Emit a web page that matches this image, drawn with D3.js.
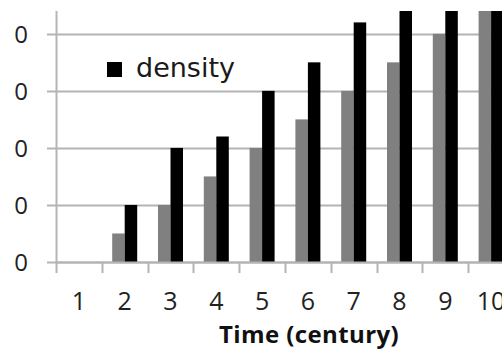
<!DOCTYPE html>
<html>
<head>
<meta charset="utf-8">
<script src="https://cdn.jsdelivr.net/npm/d3@7/dist/d3.min.js"></script>
<style>
  html, body { margin: 0; padding: 0; background: #fff; overflow: hidden; }
  svg { display: block; }
</style>
</head>
<body>
<svg id="chart" width="502" height="352"></svg>
<script>
// Categories (centuries) and the two series per century
const centuries = ["1", "2", "3", "4", "5", "6", "7", "8", "9", "10"];
const greyValues = [0, 5, 10, 15, 20, 25, 30, 35, 40, 45];
const densityValues = [0, 10, 20, 22, 30, 35, 42, 48, 52, 58];
const seriesKeys = ["grey", "density"];
const yTickValues = [0, 10, 20, 30, 40];
const yTickLabels = ["0", "0", "0", "0", "0"];
const legendLabel = "density";
const xTitle = "Time (century)";

const svg = d3.select("#chart");
const plot = { left: 56, right: 514, top: 11, bottom: 262 };

const x0 = d3.scaleBand().domain(centuries).range([plot.left, plot.right]).padding(0);
const x1 = d3.scaleBand().domain(seriesKeys).range([0, x0.bandwidth()])
  .paddingInner(0).paddingOuter(0.832);
const y = d3.scaleLinear().domain([0, 44]).range([plot.bottom, plot.top]);
const colour = d3.scaleOrdinal().domain(seriesKeys).range(["#808080", "#000000"]);

const gridColour = "#b4b4b4";

// Horizontal gridlines with short ticks left of the axis
svg.append("g")
  .selectAll("line")
  .data(yTickValues)
  .join("line")
  .attr("x1", plot.left - 9)
  .attr("x2", 502)
  .attr("y1", d => Math.round(y(d)) + 0.5)
  .attr("y2", d => Math.round(y(d)) + 0.5)
  .attr("stroke", gridColour)
  .attr("stroke-width", 2);

// Y tick labels
svg.append("g")
  .selectAll("text")
  .data(yTickValues)
  .join("text")
  .attr("x", 28)
  .attr("y", d => y(d) + 9)
  .attr("text-anchor", "end")
  .attr("font-family", "'Open Sans', sans-serif")
  .attr("font-size", 24)
  .attr("fill", "#222")
  .text((d, i) => yTickLabels[i]);

// Bars, clipped to the plotting area
svg.append("clipPath").attr("id", "plotClip")
  .append("rect")
  .attr("x", plot.left).attr("y", plot.top)
  .attr("width", plot.right - plot.left).attr("height", plot.bottom - plot.top);

const rows = centuries.map((c, i) => ({ century: c, grey: greyValues[i], density: densityValues[i] }));

svg.append("g")
  .attr("clip-path", "url(#plotClip)")
  .selectAll("g")
  .data(rows)
  .join("g")
  .attr("transform", d => `translate(${x0(d.century)},0)`)
  .selectAll("rect")
  .data(d => seriesKeys.map(k => ({ key: k, value: d[k] })))
  .join("rect")
  .attr("x", d => x1(d.key))
  .attr("width", x1.bandwidth())
  .attr("y", d => y(d.value))
  .attr("height", d => y(0) - y(d.value))
  .attr("fill", d => colour(d.key));

// Axes lines
svg.append("line")
  .attr("x1", plot.left + 0.5).attr("x2", plot.left + 0.5)
  .attr("y1", plot.top).attr("y2", plot.bottom)
  .attr("stroke", gridColour).attr("stroke-width", 2);

svg.append("line")
  .attr("x1", plot.left).attr("x2", 502)
  .attr("y1", plot.bottom + 0.5).attr("y2", plot.bottom + 0.5)
  .attr("stroke", gridColour).attr("stroke-width", 2);

// X ticks at category boundaries
svg.append("g")
  .selectAll("line")
  .data(centuries)
  .join("line")
  .attr("x1", d => Math.round(x0(d)) + 0.5)
  .attr("x2", d => Math.round(x0(d)) + 0.5)
  .attr("y1", plot.bottom)
  .attr("y2", plot.bottom + 11)
  .attr("stroke", gridColour)
  .attr("stroke-width", 2);

// X tick labels
svg.append("g")
  .selectAll("text")
  .data(centuries)
  .join("text")
  .attr("x", d => x0(d) + x0.bandwidth() / 2)
  .attr("y", 310)
  .attr("text-anchor", "middle")
  .attr("font-family", "'Open Sans', sans-serif")
  .attr("font-size", 25)
  .attr("fill", "#222")
  .text(d => d);

// X axis title
svg.append("text")
  .attr("x", 309)
  .attr("y", 343)
  .attr("text-anchor", "middle")
  .attr("font-family", "'Open Sans', sans-serif")
  .attr("font-weight", "bold")
  .attr("font-size", 24)
  .attr("letter-spacing", 0.4)
  .attr("fill", "#111")
  .text(xTitle);

// Legend
const legend = svg.append("g");
legend.append("rect")
  .attr("x", 107).attr("y", 62)
  .attr("width", 15).attr("height", 15)
  .attr("fill", colour("density"));
legend.append("text")
  .attr("x", 136).attr("y", 77)
  .attr("font-family", "'DejaVu Sans', Verdana, sans-serif")
  .attr("font-size", 27)
  .attr("fill", "#1a1a1a")
  .text(legendLabel);
</script>
</body>
</html>
